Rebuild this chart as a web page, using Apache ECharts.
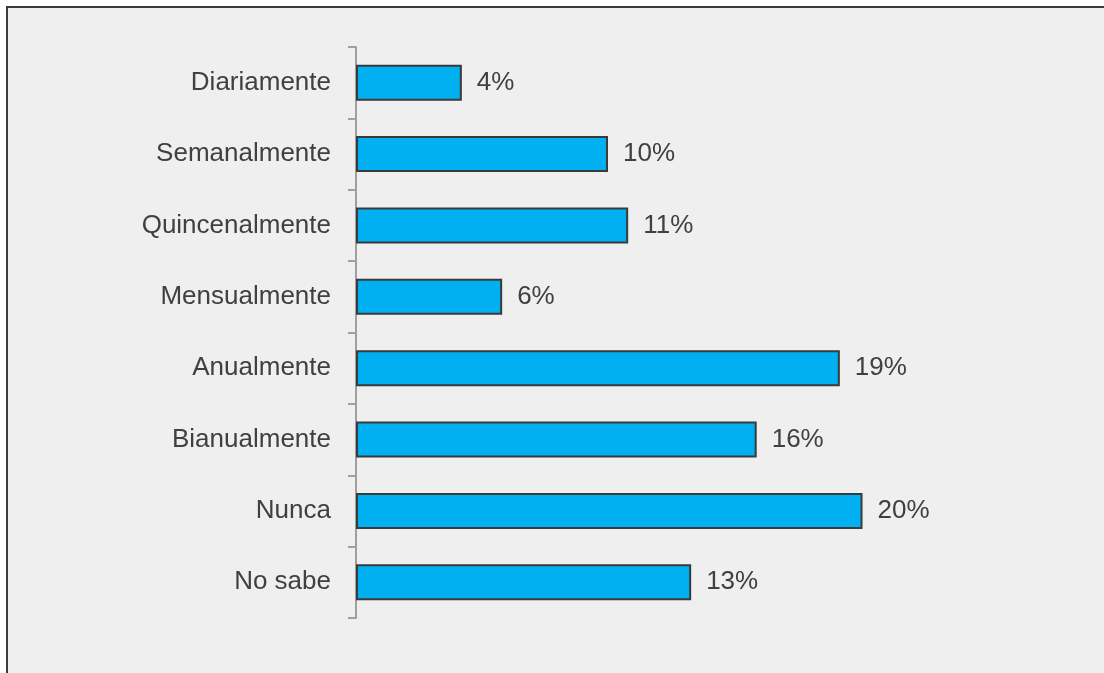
<!DOCTYPE html>
<html>
<head>
<meta charset="utf-8">
<script src="https://cdn.jsdelivr.net/npm/echarts@6/dist/echarts.min.js"></script>
<style>
html, body { margin: 0; padding: 0; background: #ffffff; overflow: hidden; width: 1104px; height: 673px; }
#frame { position: absolute; left: 6px; top: 6px; width: 1110px; height: 680px; background: #efefef; border-left: 2px solid #3c3c3c; border-top: 2px solid #3c3c3c; }
#chart { position: absolute; left: 0; top: 0; width: 1096px; height: 665px; }
</style>
</head>
<body>
<div id="frame"><div id="chart"></div></div>
<script>
const categories = ['Diariamente', 'Semanalmente', 'Quincenalmente', 'Mensualmente', 'Anualmente', 'Bianualmente', 'Nunca', 'No sabe'];
const values = [4.2, 10.0, 10.8, 5.8, 19.2, 15.9, 20.1, 13.3];
const valueLabels = ['4%', '10%', '11%', '6%', '19%', '16%', '20%', '13%'];

const chart = echarts.init(document.getElementById('chart'), null, { renderer: 'canvas' });
chart.setOption({
  backgroundColor: 'transparent',
  animation: false,
  grid: { left: 348, top: 39, width: 630, bottom: 55, containLabel: false },
  xAxis: {
    type: 'value', min: 0, max: 25, show: false
  },
  yAxis: {
    type: 'category',
    data: categories,
    inverse: true,
    axisLine: { show: true, lineStyle: { color: '#a0a0a0', width: 2 } },
    axisTick: { show: true, length: 8, lineStyle: { color: '#a0a0a0', width: 2 } },
    axisLabel: { color: '#404040', fontSize: 26, fontFamily: 'Liberation Sans, Arial, sans-serif', margin: 25, padding: [7, 0, 0, 0] },
    splitLine: { show: false }
  },
  series: [{
    type: 'bar',
    data: values,
    barWidth: 36,
    itemStyle: { color: '#00b0f0', borderColor: '#3a3a3a', borderWidth: 2 },
    label: {
      show: true, position: 'right', distance: 15, padding: [7, 0, 0, 0],
      color: '#404040', fontSize: 26, fontFamily: 'Liberation Sans, Arial, sans-serif',
      formatter: p => valueLabels[p.dataIndex]
    }
  }]
});
</script>
</body>
</html>
